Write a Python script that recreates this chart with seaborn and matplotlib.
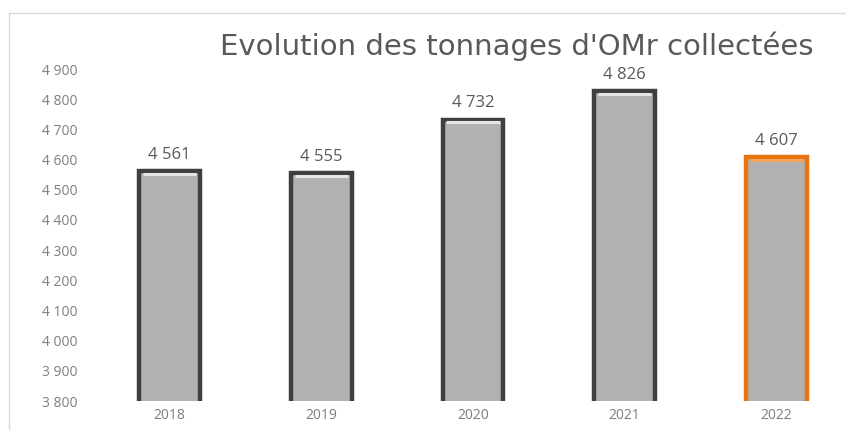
import matplotlib
matplotlib.use("Agg")
import matplotlib.pyplot as plt
import seaborn as sns
import pandas as pd
from matplotlib.lines import Line2D

years = ["2018", "2019", "2020", "2021", "2022"]
tonnages = [4561, 4555, 4732, 4826, 4607]
edge_colors = ["#3f3f3f", "#3f3f3f", "#3f3f3f", "#3f3f3f", "#e8740f"]
light_colors = ["#e6e6e6", "#e6e6e6", "#e6e6e6", "#e6e6e6", "#f7a45a"]

sns.set_theme(style="white")
plt.rcParams["font.family"] = ["Open Sans", "DejaVu Sans"]

df = pd.DataFrame({"annee": years, "tonnage": tonnages})

fig = plt.figure(figsize=(8.46, 4.30), dpi=100)
ax = fig.add_axes([0.111, 0.0674, 0.889, 0.7721])

sns.barplot(data=df, x="annee", y="tonnage", color="#b1b1b1", width=0.4,
            saturation=1, ax=ax)

# petit effet de biseau : liseré clair en haut à l'intérieur de la barre
for patch, ec, lc in zip(ax.patches, edge_colors, light_colors):
    patch.set_edgecolor(ec)
    patch.set_linewidth(3.2)
    patch.set_joinstyle("miter")
    x0 = patch.get_x()
    w = patch.get_width()
    top = patch.get_y() + patch.get_height()
    ax.plot([x0 + w * 0.06, x0 + w * 0.94], [top - 9, top - 9],
            color=lc, lw=2.2, solid_capstyle="butt", zorder=3)

for i, v in enumerate(tonnages):
    ax.annotate(f"{v:,}".replace(",", " "), (i, v), xytext=(0, 6),
                textcoords="offset points", ha="center", va="bottom",
                fontsize=12, color="#595959")

ax.set_ylim(3800, 4900)
ax.set_xlim(-0.5, 4.46)
ax.set_yticks(range(3800, 5000, 100))
ax.set_yticklabels([f"{t:,}".replace(",", " ") for t in range(3800, 5000, 100)])
ax.tick_params(axis="y", length=0, pad=12, labelsize=10, labelcolor="#7f7f7f")
ax.tick_params(axis="x", length=0, pad=5, labelsize=10, labelcolor="#7f7f7f")
ax.set_xlabel("")
ax.set_ylabel("")
sns.despine(ax=ax, left=True, bottom=True)

# cadre du graphique
fig.add_artist(Line2D([9 / 846, 1], [1 - 13 / 430] * 2, color="#d9d9d9", lw=1))
fig.add_artist(Line2D([9 / 846] * 2, [0, 1 - 13 / 430], color="#d9d9d9", lw=1))

fig.text(0.611, 0.893, "Evolution des tonnages d'OMr collectées",
         ha="center", va="center", fontsize=21, color="#595959",
         family=["DejaVu Sans"])

fig.savefig("out.png", dpi=100)
